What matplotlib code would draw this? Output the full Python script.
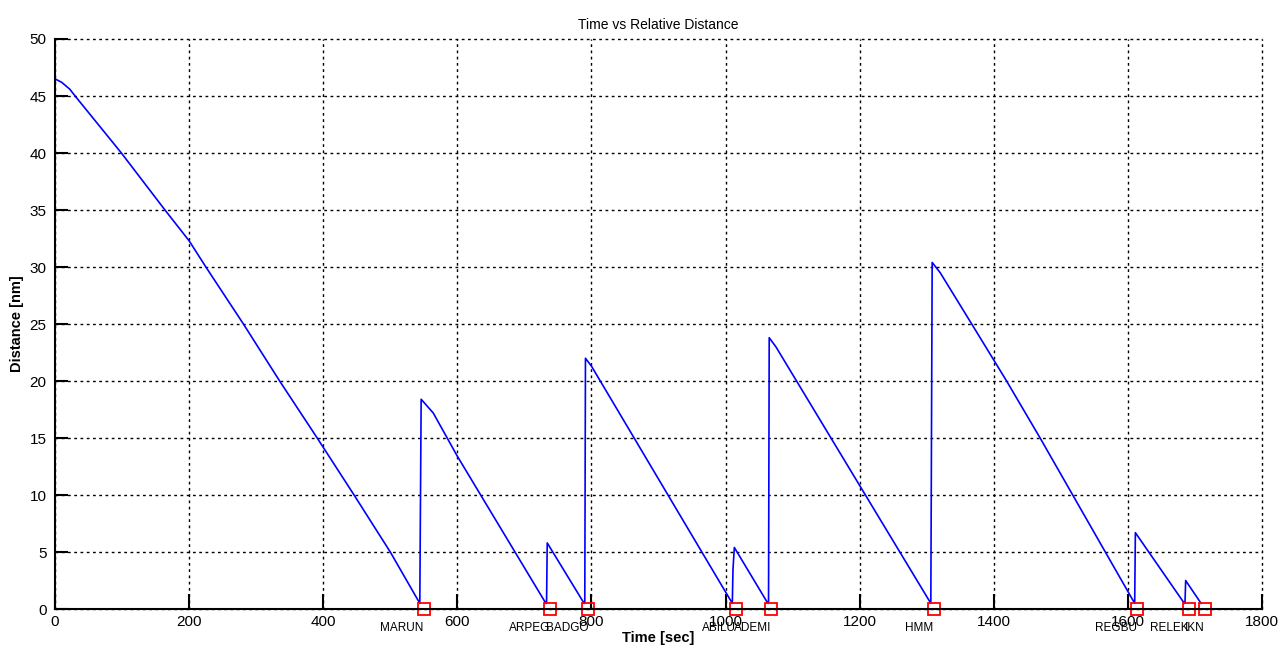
import numpy as np
import matplotlib.pyplot as plt

plt.rcParams['font.family'] = ['Liberation Sans', 'DejaVu Sans']

# distancia relativa vs tiempo
t = [0, 10, 22, 30, 99, 164, 200, 225, 281, 335, 391, 446, 500, 544,
     545, 546, 552, 564, 600, 732,
     733, 734, 789,
     790, 791, 800, 1010,
     1011, 1013, 1063,
     1064, 1065, 1075, 1306,
     1307, 1308, 1320, 1367, 1419, 1469, 1610,
     1611, 1684,
     1685, 1686, 1709]
d = [46.5, 46.2, 45.6, 45.0, 40.0, 35.0, 32.3, 30.0, 25.0, 20.0, 15.0, 10.0, 5.0, 0.5,
     9.6, 18.4, 18.0, 17.2, 13.4, 0.5,
     0.5, 5.8, 0.5,
     0.5, 22.0, 21.3, 0.5,
     3.5, 5.4, 0.5,
     0.5, 23.8, 23.0, 0.5,
     15.5, 30.4, 29.5, 25.0, 20.0, 15.0, 0.5,
     6.7, 0.5,
     0.5, 2.5, 0.5]

# waypoints
wp_t = [550, 738, 795, 1016, 1068, 1310, 1614, 1691, 1715]
wp_nombre = ['MARUN', 'ARPEG', 'BADGO', 'ABILU', 'ADEMI', 'HMM', 'REGBU', 'RELEK', 'IKN']

fig = plt.figure(figsize=(12.88, 6.5), dpi=100)
ax = fig.add_axes([0.0427, 0.063, 0.9372, 0.877])

ax.plot(t, d, color='blue', lw=1.2)
ax.plot(wp_t, np.zeros(len(wp_t)), 's', mfc='none', mec='red', ms=8, mew=1.3, clip_on=False)

for x, nom in zip(wp_t, wp_nombre):
    ax.text(x, -1.7, nom, ha='right', va='center', fontsize=8.5)

ax.set_xlim(0, 1800)
ax.set_ylim(0, 50)
ax.set_xticks(np.arange(0, 1801, 200))
ax.set_yticks(np.arange(0, 51, 5))
ax.grid(True, color='black', linestyle=(0, (2, 2.5)), lw=1.0)
for gl in ax.get_xgridlines() + ax.get_ygridlines():
    gl.set_clip_on(False)
ax.spines['top'].set_visible(False)
ax.spines['right'].set_visible(False)
ax.spines['left'].set_linewidth(1.5)
ax.spines['bottom'].set_linewidth(1.5)
ax.tick_params(axis='x', direction='in', length=11, width=1.5, labelsize=11, pad=4)
ax.tick_params(axis='y', direction='in', length=9, width=1.5, labelsize=11, pad=6)

ax.set_title('Time vs Relative Distance', fontsize=10, pad=7)
ax.set_xlabel('Time [sec]', fontsize=10.5, fontweight='bold', labelpad=2)
ax.set_ylabel('Distance [nm]', fontsize=10.5, fontweight='bold', labelpad=4)

fig.savefig('out.png', dpi=100)
